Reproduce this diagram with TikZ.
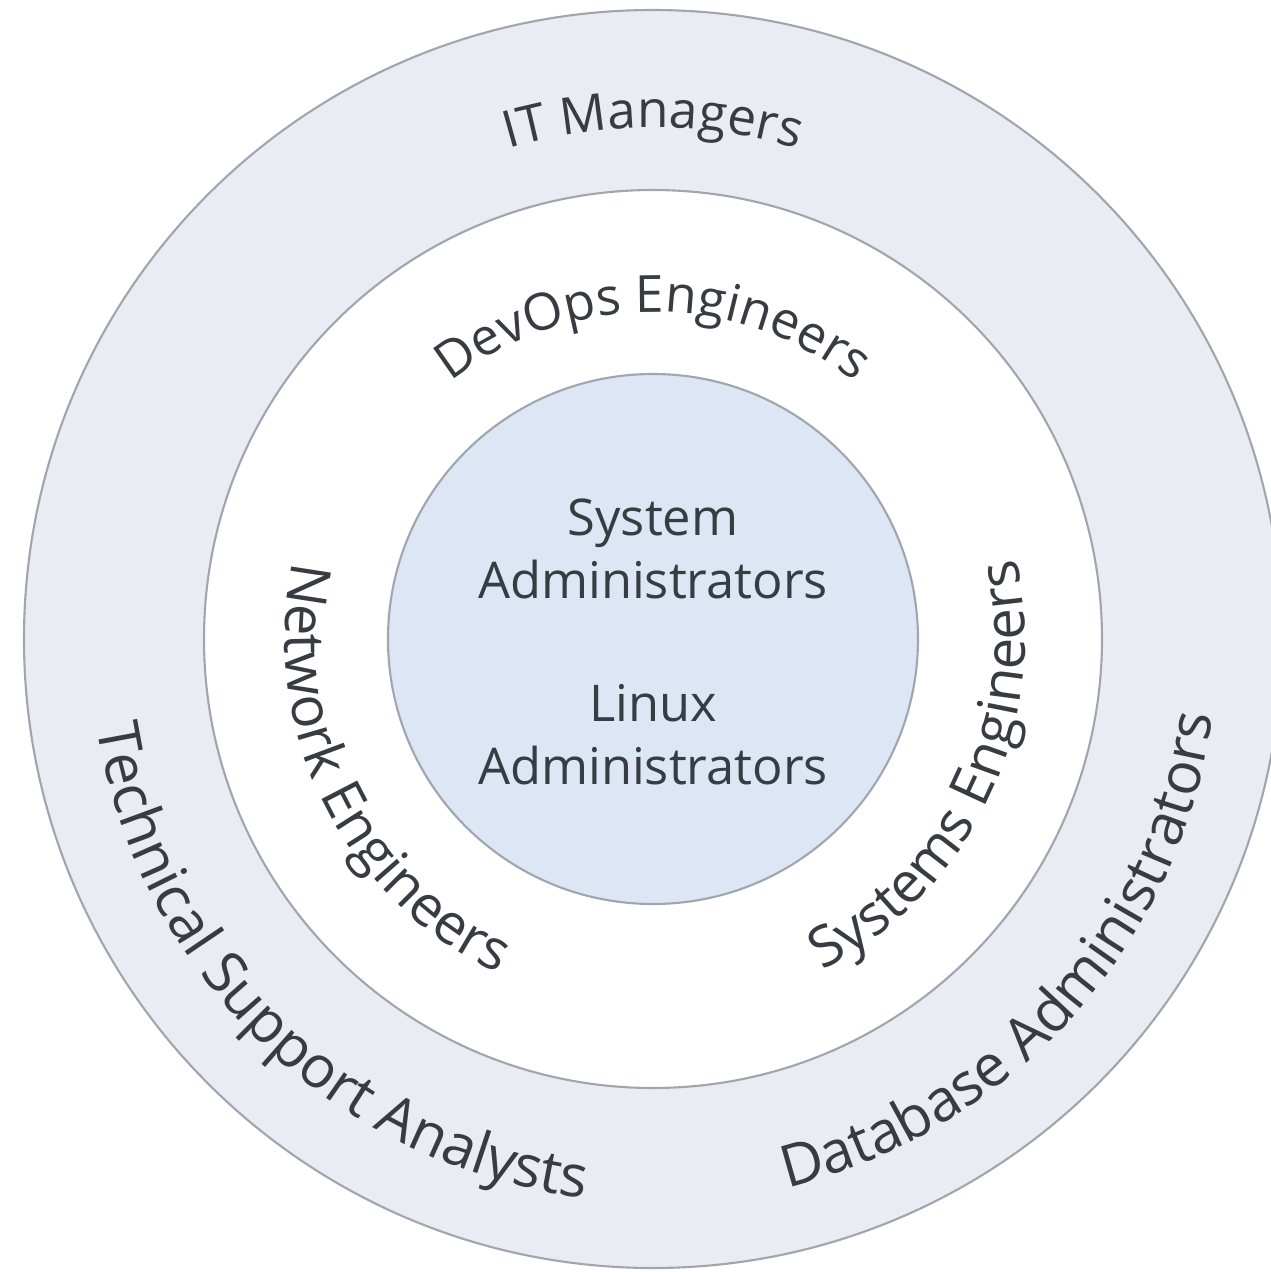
\documentclass[tikz,border=0pt]{standalone}
\usepackage{fontspec}
\usepackage{tikz}
\setmainfont{Open Sans}
\usetikzlibrary{decorations.text}
\definecolor{ringline}{RGB}{160,166,174}
\newcommand{\topfont}{\fontsize{14.6pt}{18pt}\selectfont}
\newcommand{\sidefont}{\fontsize{16pt}{19pt}\selectfont}
\newcommand{\outfont}{\fontsize{16.6pt}{19pt}\selectfont}
\newcommand{\corefont}{\fontsize{14.4pt}{17.9pt}\selectfont}

\begin{document}
\begin{tikzpicture}
    % Define colors for the rings
    \definecolor{outerfill}{RGB}{233,237,243} % Pale grey-blue
    \definecolor{corefill}{RGB}{221,230,244}  % Light blue
    \definecolor{txtgray}{RGB}{55,60,66}      % Dark grey
    \tikzset{
        ring/.style={draw=ringline, line width=0.6pt},
        toptext/.style={decorate, decoration={text along path, text={|\topfont|#1}, text align=center, text color=txtgray}},
        sidetext/.style={decorate, decoration={text along path, text={|\sidefont|#1}, text align=center, text color=txtgray}},
        outtext/.style={decorate, decoration={text along path, text={|\outfont|#1}, text align=center, text color=txtgray}},
        corelabel/.style={text=txtgray, align=center, font=\corefont}
    }
    \useasboundingbox[fill=white] (-6.53,-6.33) rectangle (6.18,6.39);

    % Rings
    \draw[ring, fill=outerfill] (0,0) circle (6.29cm);
    \draw[ring, fill=white] (0,0) circle (4.49cm);
    \draw[ring, fill=corefill] (0,0) circle (2.65cm);

    % Core
    \node[corelabel] (sysadmin) at (0,0.905) {System\\Administrators};
    \node[corelabel] (linuxadmin) at (0,-0.955) {Linux\\Administrators};

    % Middle ring
    \path[toptext={DevOps Engineers}] (150:3.27) arc[start angle=150, end angle=30, radius=3.27];
    \path[sidetext={Network Engineers}] (146.5:3.68) arc[start angle=146.5, end angle=266.5, radius=3.68];
    \path[sidetext={Systems Engineers}] (-85.2:3.72) arc[start angle=-85.2, end angle=34.8, radius=3.72];

    % Outer ring
    \path[toptext={IT Managers}] (150:5.11) arc[start angle=150, end angle=30, radius=5.11];
    \path[outtext={Technical Support Analysts}] (166:5.63) arc[start angle=166, end angle=286, radius=5.63];
    \path[outtext={Database Administrators}] (-102:5.65) arc[start angle=-102, end angle=18, radius=5.65];
\end{tikzpicture}
\end{document}
